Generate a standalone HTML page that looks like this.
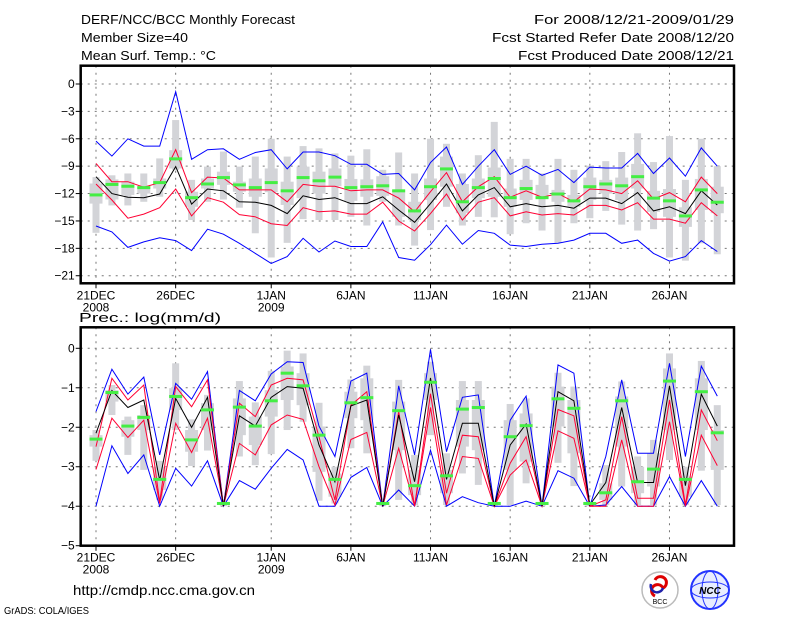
<!DOCTYPE html>
<html><head><meta charset="utf-8"><style>
html,body{margin:0;padding:0;background:#fff}
svg{display:block}
text{font-family:"Liberation Sans",sans-serif;fill:#000}
</style></head><body>
<svg id="chart" width="800" height="618" viewBox="0 0 800 618" xmlns="http://www.w3.org/2000/svg">
<g font-size="13">
<text x="81" y="24" textLength="214" lengthAdjust="spacingAndGlyphs">DERF/NCC/BCC Monthly Forecast</text>
<text x="81" y="42" textLength="107" lengthAdjust="spacingAndGlyphs">Member Size=40</text>
<text x="81" y="60" textLength="135" lengthAdjust="spacingAndGlyphs">Mean Surf. Temp.: °C</text>
<text x="534" y="24" textLength="200" lengthAdjust="spacingAndGlyphs">For 2008/12/21-2009/01/29</text>
<text x="492" y="42" textLength="242" lengthAdjust="spacingAndGlyphs">Fcst Started Refer Date 2008/12/20</text>
<text x="518" y="60" textLength="216" lengthAdjust="spacingAndGlyphs">Fcst Produced Date 2008/12/21</text>
</g>
<text x="79" y="322" font-size="13" textLength="142" lengthAdjust="spacingAndGlyphs">Prec.: log(mm/d)</text>
<g id="panels"></g>
<text x="73" y="595" font-size="14" textLength="182" lengthAdjust="spacingAndGlyphs">http://cmdp.ncc.cma.gov.cn</text>
<text x="4" y="614" font-size="10" textLength="85" lengthAdjust="spacingAndGlyphs">GrADS: COLA/IGES</text>
<g>
<circle cx="660" cy="590" r="18" fill="#fff" stroke="#bbb" stroke-width="1.5"/>
<path d="M655 580 a6 6 0 1 1 8 8 a6 6 0 1 0 -8 8" fill="none" stroke="#d00" stroke-width="3"/>
<path d="M651 584 a6 6 0 0 0 12 4" fill="none" stroke="#22a" stroke-width="2.5"/>
<text x="660" y="604" font-size="7" text-anchor="middle" font-family="Liberation Serif">BCC</text>
</g>
<g>
<circle cx="710" cy="590" r="19" fill="#e8ecff" stroke="#23f" stroke-width="2"/>
<ellipse cx="710" cy="590" rx="19" ry="8" fill="none" stroke="#23f" stroke-width="1"/>
<ellipse cx="710" cy="590" rx="8" ry="19" fill="none" stroke="#23f" stroke-width="1"/>
<text x="710" y="594" font-size="10" text-anchor="middle" fill="#12c" font-style="italic" font-weight="bold">NCC</text>
</g>
</svg>
<script>
// ===== Temperature panel data (°C) =====
const days = ["21DEC","22DEC","23DEC","24DEC","25DEC","26DEC","27DEC","28DEC","29DEC","30DEC","31DEC","1JAN","2JAN","3JAN","4JAN","5JAN","6JAN","7JAN","8JAN","9JAN","10JAN","11JAN","12JAN","13JAN","14JAN","15JAN","16JAN","17JAN","18JAN","19JAN","20JAN","21JAN","22JAN","23JAN","24JAN","25JAN","26JAN","27JAN","28JAN","29JAN"];
const xTickLabels = ["21DEC","26DEC","1JAN","6JAN","11JAN","16JAN","21JAN","26JAN"];
const xTickYears = ["2008","","2009","","","","",""];
const xTickIndex = [0,5,11,16,21,26,31,36];
const tTicks = [0,-3,-6,-9,-12,-15,-18,-21];
const tMax = [-6.25,-7.9,-6.0,-6.8,-6.8,-0.84,-8.25,-7.2,-7.1,-8.25,-7.5,-7.2,-9.3,-7.45,-7.45,-7.85,-8.8,-8.8,-9.9,-9.8,-11.6,-8.6,-6.9,-11.0,-9.0,-7.2,-9.9,-9.0,-10.0,-9.35,-10.8,-9.1,-9.2,-9.2,-7.6,-9.8,-8.1,-10.1,-7.0,-9.0];
const tUpper = [-8.7,-10.7,-10.7,-11.3,-10.8,-7.2,-11.9,-10.2,-10.3,-11.6,-11.6,-11.6,-12.9,-11.0,-11.2,-11.2,-11.7,-11.6,-11.6,-12.5,-14.0,-11.8,-9.7,-12.9,-11.25,-10.15,-12.4,-11.7,-12.4,-12.0,-12.9,-11.5,-11.6,-12.0,-10.6,-12.6,-11.9,-12.9,-10.2,-12.0];
const tMean = [-10.15,-12.0,-12.4,-12.45,-12.05,-9.05,-13.15,-11.5,-11.7,-12.9,-12.95,-13.3,-14.2,-12.25,-12.65,-12.45,-13.1,-13.1,-12.35,-13.8,-15.15,-13.1,-10.95,-13.9,-12.15,-11.35,-13.45,-13.1,-13.45,-13.3,-13.6,-12.5,-12.5,-13.1,-11.9,-13.9,-13.45,-14.2,-11.7,-13.25];
const tLower = [-10.95,-12.7,-14.7,-14.25,-13.55,-11.5,-14.45,-12.45,-12.95,-14.3,-14.55,-15.3,-15.5,-13.55,-14.0,-13.9,-14.25,-14.25,-12.95,-15.0,-16.1,-14.2,-12.05,-14.9,-12.95,-12.45,-14.45,-14.0,-14.35,-14.2,-14.35,-13.3,-13.3,-13.8,-13.0,-14.8,-14.8,-15.25,-13.0,-14.45];
const tMin = [-15.55,-16.2,-17.9,-17.3,-16.85,-17.15,-18.25,-15.9,-16.45,-17.45,-18.55,-19.65,-18.9,-16.9,-18.4,-17.2,-17.8,-17.8,-15.1,-19.0,-19.3,-17.6,-15.45,-17.55,-16.05,-16.35,-17.65,-17.8,-17.55,-17.45,-17.1,-16.35,-16.35,-17.45,-17.1,-18.55,-19.4,-18.9,-17.15,-18.35];
const tObs = [-12.15,-11.0,-11.2,-11.35,-10.8,-8.2,-12.45,-10.95,-10.25,-11.05,-11.35,-10.8,-11.7,-10.25,-10.6,-10.2,-11.35,-11.25,-11.15,-11.7,-13.9,-11.25,-9.3,-12.9,-11.35,-10.35,-12.45,-11.45,-12.45,-12.05,-12.8,-11.25,-10.95,-11.15,-10.15,-12.5,-12.8,-14.45,-11.6,-12.95];
const tBarHi = [-10.2,-10.0,-9.8,-9.8,-8.15,-3.95,-10.5,-9.05,-7.4,-9.05,-7.95,-6.0,-7.95,-6.8,-7.05,-7.6,-7.85,-7.15,-9.4,-7.5,-9.8,-6.0,-6.55,-9.8,-7.8,-4.15,-8.2,-8.2,-9.8,-8.2,-9.4,-8.95,-8.45,-7.45,-5.4,-8.55,-5.7,-10.5,-6.0,-9.0];
const tBarLo = [-16.3,-13.3,-13.3,-12.9,-12.35,-9.4,-14.9,-12.9,-12.65,-13.55,-16.35,-19.0,-17.4,-14.8,-14.9,-14.9,-14.55,-15.5,-12.9,-15.5,-17.7,-16.0,-13.45,-15.5,-14.55,-14.6,-16.45,-15.25,-16.05,-17.4,-15.25,-14.7,-13.9,-15.4,-16.05,-15.9,-19.0,-19.35,-17.45,-18.65];
const tBoxHi = [-10.9,-10.45,-10.7,-11.2,-10.35,-7.25,-11.8,-10.35,-9.6,-10.7,-10.35,-9.25,-10.7,-9.05,-9.6,-9.25,-10.4,-10.45,-10.1,-11.6,-12.9,-10.35,-7.95,-10.95,-10.35,-9.15,-11.45,-10.5,-11.05,-11.6,-12.15,-10.25,-10.5,-10.25,-8.75,-11.7,-11.5,-13.5,-10.4,-11.25];
const tBoxLo = [-13.1,-12.65,-12.15,-12.0,-11.45,-9.25,-13.45,-11.45,-11.05,-11.8,-12.35,-11.85,-13.25,-12.5,-12.0,-11.2,-12.8,-12.35,-12.25,-14.55,-14.9,-12.7,-11.25,-14.15,-12.5,-12.35,-13.45,-12.7,-12.5,-12.9,-13.45,-12.7,-12.0,-12.7,-11.45,-14.0,-14.55,-15.65,-13.8,-14.15];

// ===== Precipitation panel data (log mm/d) =====
const pTicks = [0,-1,-2,-3,-4,-5];
const pMax = [-1.6,-0.53,-1.16,-0.73,-2.7,-0.89,-1.29,-0.59,-4.0,-1.07,-1.33,-0.65,-0.34,-0.36,-1.97,-2.74,-0.83,-0.63,-4.0,-0.95,-2.7,-0.03,-2.62,-1.24,-1.18,-4.0,-1.82,-1.21,-4.0,-0.42,-0.63,-4.0,-2.74,-0.8,-2.66,-2.66,-0.38,-2.74,-0.45,-1.21];
const pUpper = [-2.49,-0.76,-1.31,-0.93,-3.89,-0.97,-1.48,-0.8,-4.0,-1.39,-1.73,-0.93,-0.76,-0.8,-2.24,-3.84,-1.44,-1.1,-4.0,-1.6,-4.0,-1.15,-3.67,-2.2,-2.24,-4.0,-2.91,-2.24,-4.0,-1.55,-1.71,-4.0,-3.84,-1.73,-3.8,-3.8,-1.31,-3.97,-1.56,-2.34];
const pMean = [-2.15,-1.07,-1.5,-1.31,-3.34,-1.27,-2.0,-1.24,-4.0,-1.71,-1.97,-1.24,-0.97,-1.01,-2.45,-3.38,-1.46,-1.31,-4.0,-1.69,-3.38,-0.75,-3.32,-1.9,-1.9,-4.0,-2.45,-1.92,-4.0,-1.1,-1.33,-3.97,-3.4,-1.5,-3.4,-3.4,-0.95,-3.48,-1.16,-1.97];
const pLower = [-3.07,-1.77,-2.26,-1.82,-3.93,-1.9,-2.64,-1.77,-4.0,-2.41,-2.7,-1.94,-1.69,-1.8,-3.0,-3.97,-2.31,-2.13,-4.0,-2.53,-4.0,-1.5,-3.97,-2.74,-2.79,-4.0,-3.21,-2.83,-4.0,-2.09,-2.28,-4.0,-4.0,-2.32,-4.0,-4.0,-1.86,-4.0,-2.2,-2.97];
const pMin = [-4.0,-2.47,-3.17,-2.7,-4.0,-3.04,-3.49,-2.85,-4.0,-3.35,-3.57,-3.04,-2.56,-2.83,-4.0,-4.0,-3.27,-3.02,-4.0,-3.59,-4.0,-2.58,-4.0,-3.76,-3.91,-4.0,-4.0,-3.87,-4.0,-3.1,-3.29,-4.0,-3.97,-3.5,-4.0,-4.0,-3.25,-4.0,-3.35,-4.0];
const pObs = [-2.3,-1.12,-1.97,-1.75,-3.32,-1.22,-2.32,-1.56,-3.93,-1.49,-1.97,-1.33,-0.63,-0.95,-2.2,-3.32,-1.38,-1.25,-3.93,-1.58,-3.48,-0.86,-3.23,-1.54,-1.5,-3.93,-2.24,-1.96,-3.93,-1.28,-1.52,-3.93,-3.66,-1.33,-3.38,-3.06,-0.83,-3.32,-1.1,-2.14];
const pBarHi = [-2.07,-0.93,-1.73,-1.44,-2.85,-0.38,-1.8,-1.18,-3.89,-0.83,-1.37,-0.57,-0.06,-0.13,-1.38,-3.0,-0.79,-0.44,-3.89,-0.8,-2.7,-0.34,-2.66,-0.83,-0.83,-3.89,-1.41,-1.27,-3.89,-0.62,-0.97,-3.89,-2.96,-0.84,-2.74,-2.32,-0.13,-3.0,-0.32,-1.44];
const pBarLo = [-2.85,-1.69,-2.7,-3.08,-3.84,-2.07,-2.98,-2.59,-4.0,-2.74,-2.96,-2.68,-2.07,-1.86,-3.86,-3.93,-2.53,-2.66,-4.0,-3.84,-3.97,-2.2,-3.97,-3.17,-3.46,-4.0,-3.97,-3.42,-4.0,-2.9,-3.49,-4.0,-3.97,-3.5,-3.97,-3.97,-2.83,-3.97,-3.1,-3.97];
const pBoxHi = [-2.2,-1.06,-1.82,-1.69,-3.0,-1.01,-2.07,-1.39,-3.91,-1.27,-1.73,-1.06,-0.46,-0.63,-1.98,-3.17,-1.1,-0.76,-3.91,-1.35,-3.08,-0.63,-3.08,-1.31,-1.31,-3.91,-1.82,-1.65,-3.91,-0.97,-1.31,-3.91,-3.42,-1.22,-3.0,-2.66,-0.51,-3.25,-0.76,-2.07];
const pBoxLo = [-2.49,-1.35,-2.24,-2.07,-3.59,-1.56,-2.62,-2.07,-3.97,-2.2,-2.45,-1.73,-1.31,-1.44,-3.13,-3.76,-1.77,-1.82,-3.97,-2.58,-3.72,-1.31,-3.67,-2.49,-2.58,-3.97,-3.08,-2.87,-3.97,-1.98,-2.66,-3.97,-3.84,-2.49,-3.67,-3.5,-2.07,-3.76,-2.07,-3.08];

const NS = "http://www.w3.org/2000/svg";
const root = document.getElementById("panels");
const X0 = 80.7, X1 = 734;
function xAt(i){ return 96 + 15.93 * i; }
function mk(tag, attrs, parent){
  const e = document.createElementNS(NS, tag);
  for (const k in attrs) e.setAttribute(k, attrs[k]);
  parent.appendChild(e);
  return e;
}
function drawPanel(cfg){
  const g = mk("g", {}, root);
  
  
  const y = v => cfg.y0 - cfg.k * v;
  cfg.ticks.forEach(t => {
    const gl = mk("line", {x1:X0, x2:X1, y1:y(t), y2:y(t), stroke:"#777", "stroke-width":1, "stroke-dasharray":"2,5"}, g);
    
    
    const tk = mk("line", {x1:X0-5, x2:X0, y1:y(t), y2:y(t), stroke:"#000", "stroke-width":1}, g);
    
    
    const lb = mk("text", {x:X0-6, y:y(t)+4, "font-size":12, "text-anchor":"end"}, g);
    lb.textContent = t === 0 ? "0" : "\u2212" + Math.abs(t);
    
    
  });
  xTickIndex.forEach((d, j) => {
    const xx = xAt(d);
    const gl = mk("line", {x1:xx, x2:xx, y1:cfg.top, y2:cfg.bot, stroke:"#777", "stroke-width":1, "stroke-dasharray":"2,5"}, g);
    
    
    const tk = mk("line", {x1:xx, x2:xx, y1:cfg.bot, y2:cfg.bot+5, stroke:"#000"}, g);
    
    
    const lb = mk("text", {x:xx, y:cfg.bot+16, "font-size":12, "text-anchor":"middle"}, g);
    lb.textContent = xTickLabels[j];
    
    
    if (xTickYears[j]) {
      const yl = mk("text", {x:xx, y:cfg.bot+28, "font-size":12, "text-anchor":"middle"}, g);
      yl.textContent = xTickYears[j];
      
      
    }
  });
  cfg.barHi.forEach((hi, i) => {
    const xx = xAt(i);
    const b = mk("rect", {x:xx-3.5, width:7, y:y(hi), height:Math.max(1, y(cfg.barLo[i]) - y(hi)), fill:"#d3d4d8"}, g);
    
    
    const bx = mk("rect", {x:xx-6.5, width:13, y:y(cfg.boxHi[i]), height:Math.max(1, y(cfg.boxLo[i]) - y(cfg.boxHi[i])), fill:"#d3d4d8"}, g);
    
    
  });
  const series = [[cfg.max,"#0000ff","max-line"],[cfg.min,"#0000ff","min-line"],[cfg.upper,"#ff0033","upper-line"],[cfg.lower,"#ff0033","lower-line"],[cfg.mean,"#000","mean-line"]];
  series.forEach(s => {
    const pts = s[0].map((v,i) => xAt(i).toFixed(1)+","+y(v).toFixed(1)).join(" ");
    const pl = mk("polyline", {points:pts, fill:"none", stroke:s[1], "stroke-width":1}, g);
    
    
  });
  cfg.obs.forEach((v, i) => {
    const r = mk("rect", {x:xAt(i)-6.5, width:13, y:y(v)-1.5, height:3, fill:"#44ee44"}, g);
    
    
  });
  const fr = mk("rect", {x:X0, y:cfg.top, width:X1-X0, height:cfg.bot-cfg.top, fill:"none", stroke:"#000", "stroke-width":2.5}, g);
  
  
}
drawPanel({name:"temperature-panel", top:65.7, bot:283.3, y0:84.0, k:9.13, ticks:tTicks,
  max:tMax, upper:tUpper, mean:tMean, lower:tLower, min:tMin, obs:tObs,
  barHi:tBarHi, barLo:tBarLo, boxHi:tBoxHi, boxLo:tBoxLo});
drawPanel({name:"precipitation-panel", top:327.3, bot:545.7, y0:348.3, k:39.48, ticks:pTicks,
  max:pMax, upper:pUpper, mean:pMean, lower:pLower, min:pMin, obs:pObs,
  barHi:pBarHi, barLo:pBarLo, boxHi:pBoxHi, boxLo:pBoxLo});
</script>
</body></html>
